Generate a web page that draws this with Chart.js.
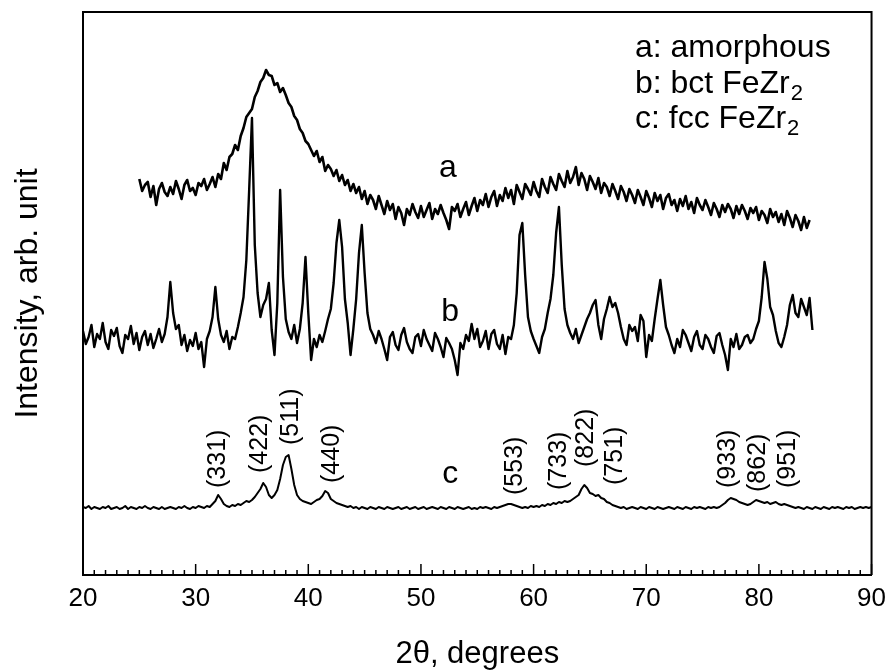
<!DOCTYPE html>
<html>
<head>
<meta charset="utf-8">
<script src="https://cdn.jsdelivr.net/npm/chart.js@4/dist/chart.umd.min.js"></script>
<style>
  html, body { margin: 0; padding: 0; background: #fff; }
  #wrap { width: 894px; height: 672px; }
</style>
</head>
<body>
<div id="wrap"><canvas id="xrd" width="894" height="672"></canvas></div>
<script>
// 2theta sampling of the scans (degrees)
const step = 0.25
const aStart = 25
const bStart = 20
const cStart = 20

// a: amorphous (arb. units)
const aIntensity = [
  396, 384, 390, 393, 378, 389, 370, 386, 392, 383, 379, 388,
  381, 394, 386, 376, 390, 395, 384, 387, 380, 392, 389, 396,
  385, 391, 398, 388, 401, 396, 412, 405, 418, 421, 430, 425,
  439, 447, 458, 462, 466, 478, 484, 493, 497, 505, 500, 499,
  490, 492, 483, 487, 480, 472, 468, 459, 455, 446, 442, 434,
  431, 425, 419, 424, 413, 418, 404, 410, 406, 399, 405, 394,
  400, 390, 395, 384, 391, 382, 388, 376, 384, 371, 380, 375,
  366, 379, 370, 361, 374, 365, 371, 356, 368, 362, 350, 366,
  360, 371, 363, 357, 369, 358, 365, 372, 356, 366, 361, 370,
  362, 355, 346, 368, 364, 371, 358, 366, 373, 360, 369, 377,
  364, 375, 370, 381, 368, 378, 384, 369, 380, 374, 387, 377,
  385, 371, 390, 383, 376, 391, 386, 380, 393, 384, 378, 396,
  388, 382, 398, 391, 385, 401, 394, 388, 404, 392, 398, 408,
  390, 402, 396, 385, 399, 393, 386, 397, 382, 392, 388, 379,
  391, 384, 376, 389, 383, 374, 386, 380, 372, 385, 378, 370,
  384, 377, 368, 382, 374, 380, 366, 377, 381, 370, 375, 364,
  376, 369, 379, 366, 373, 362, 377, 370, 365, 375, 368, 360,
  372, 366, 358, 370, 363, 371, 366, 357, 369, 361, 370, 364,
  356, 367, 362, 368, 355, 364, 360, 352, 366, 358, 363, 353,
  361, 350, 364, 357, 348, 360, 354, 345, 358, 347, 355
]

// b: bct FeZr2
const bIntensity = [
  244, 231, 238, 250, 228, 241, 236, 252, 233, 226, 245, 239,
  247, 229, 222, 240, 236, 249, 231, 242, 225, 238, 244, 230,
  241, 227, 236, 246, 233, 241, 258, 293, 262, 246, 250, 230,
  240, 224, 235, 229, 242, 226, 233, 208, 236, 244, 258, 288,
  256, 240, 233, 244, 226, 238, 236, 248, 262, 278, 315, 385,
  457, 330, 282, 258, 270, 276, 292, 245, 220, 272, 385, 298,
  256, 243, 236, 250, 232, 246, 272, 318, 262, 215, 236, 228,
  240, 233, 244, 256, 266, 292, 332, 355, 328, 276, 252, 220,
  246, 276, 322, 350, 302, 262, 246, 240, 232, 244, 236, 226,
  215, 238, 243, 230, 225, 240, 247, 233, 226, 222, 238, 241,
  229, 245, 236, 230, 224, 242, 236, 228, 218, 237, 232, 226,
  215, 200, 232, 226, 240, 234, 251, 236, 246, 228, 234, 244,
  226, 241, 245, 231, 226, 240, 221, 238, 236, 250, 282, 340,
  352, 300, 258, 244, 236, 229, 222, 238, 246, 262, 276, 300,
  342, 368, 310, 266, 250, 242, 236, 246, 232, 240, 248, 256,
  262, 270, 275, 250, 236, 256, 266, 278, 268, 272, 262, 248,
  236, 230, 250, 244, 248, 234, 260, 254, 218, 240, 234, 256,
  276, 295, 270, 248, 240, 230, 222, 236, 228, 245, 240, 232,
  224, 238, 244, 230, 226, 240, 236, 228, 222, 239, 242, 230,
  220, 205, 236, 228, 241, 226, 230, 238, 240, 232, 236, 246,
  254, 278, 313, 296, 268, 260, 244, 232, 228, 238, 250, 270,
  280, 262, 258, 276, 268, 260, 277, 245
]

// c: fcc FeZr2
const cIntensity = [
  68, 67, 69, 66, 68, 67, 66, 68, 67, 69, 66, 67, 68, 66, 67, 69,
  66, 68, 67, 66, 68, 67, 69, 67, 66, 68, 67, 66, 68, 66, 67, 68,
  67, 66, 68, 67, 69, 67, 66, 68, 67, 69, 68, 67, 69, 68, 71, 74,
  80, 76, 71, 69, 68, 70, 69, 71, 70, 72, 74, 73, 75, 78, 82, 86,
  92, 88, 80, 77, 80, 85, 96, 110, 118, 120, 106, 90, 80, 76, 74, 73,
  72, 71, 73, 75, 76, 79, 84, 82, 76, 74, 72, 71, 70, 69, 68, 69,
  67, 68, 66, 68, 67, 66, 68, 67, 66, 68, 67, 66, 68, 67, 66, 67,
  68, 66, 67, 68, 66, 67, 68, 66, 67, 68, 66, 67, 68, 67, 66, 68,
  67, 66, 68, 67, 66, 68, 67, 66, 67, 68, 66, 67, 66, 68, 67, 68,
  67, 66, 68, 67, 68, 69, 70, 71, 71, 70, 69, 68, 67, 68, 67, 69,
  68, 69, 68, 70, 69, 71, 70, 72, 71, 73, 72, 74, 73, 74, 76, 78,
  80, 86, 90, 87, 82, 81, 79, 80, 77, 76, 73, 72, 70, 69, 68, 67,
  68, 66, 67, 68, 67, 66, 68, 67, 66, 68, 67, 66, 68, 67, 66, 67,
  68, 67, 66, 68, 67, 66, 68, 67, 66, 68, 67, 68, 67, 66, 68, 67,
  68, 67, 68, 70, 72, 75, 77, 76, 75, 73, 72, 71, 70, 71, 73, 75,
  74, 73, 72, 73, 71, 72, 73, 71, 70, 71, 70, 69, 68, 67, 68, 67,
  66, 68, 67, 66, 68, 67, 66, 68, 67, 66, 68, 67, 68, 67, 66, 68,
  67, 68, 66, 67, 68, 67, 68, 67, 68
]

// x axis tick labels
const xTickLabels = [20, 30, 40, 50, 60, 70, 80, 90]

// reflection indices of the fcc phase
const peakLabels = ['(331)', '(422)', '(511)', '(440)', '(553)', '(733)', '(822)', '(751)', '(933)', '(862)', '(951)']
const peakAngles = [32.0, 35.7, 38.5, 42.1, 58.4, 62.3, 64.7, 67.2, 77.3, 79.9, 82.55]
const peakLabelBase = [87, 102, 130, 92, 80, 85, 108, 90, 87, 83, 87]

// curve letters
const curveLetters = ['a', 'b', 'c']
const curveLetterAngle = [52.4, 52.6, 52.6]
const curveLetterBase = [398, 254, 92]

// key in the top right corner
const keyText = ['a: amorphous', 'b: bct FeZr', 'c: fcc FeZr']
const keySub = ['', '2', '2']
const keyAngle = 69.0
const keyBase = [518, 482, 447]

const FONT = "'Liberation Sans', Arial, Helvetica, sans-serif"
Chart.defaults.font.family = FONT
Chart.defaults.color = '#000'

const toPoints = (start, vals) => vals.map((v, i) => ({ x: start + i * step, y: v }))

const trace = (label, start, vals, width) => ({
  label,
  data: toPoints(start, vals),
  borderColor: '#000',
  borderWidth: width,
  borderJoinStyle: 'round',
  pointRadius: 0,
  tension: 0,
  fill: false
})

const decor = {
  id: 'decor',
  afterDraw (chart) {
    const { ctx, chartArea: area, scales: { x, y } } = chart
    ctx.save()
    ctx.strokeStyle = '#000'
    ctx.fillStyle = '#000'
    // top and right frame
    ctx.lineWidth = 2
    ctx.beginPath()
    ctx.moveTo(area.left, area.top)
    ctx.lineTo(area.right, area.top)
    ctx.lineTo(area.right, area.bottom)
    ctx.stroke()
    // inward tick marks on the 2theta axis
    ctx.lineWidth = 1.5
    x.ticks.forEach(t => {
      const px = x.getPixelForValue(t.value)
      const len = t.value % 10 === 0 ? 11 : 5
      ctx.beginPath()
      ctx.moveTo(px, area.bottom)
      ctx.lineTo(px, area.bottom - len)
      ctx.stroke()
    })
    // hkl labels
    ctx.font = '25px ' + FONT
    ctx.textAlign = 'left'
    ctx.textBaseline = 'middle'
    peakLabels.forEach((txt, i) => {
      ctx.save()
      ctx.translate(x.getPixelForValue(peakAngles[i]), y.getPixelForValue(peakLabelBase[i]))
      ctx.rotate(-Math.PI / 2)
      ctx.fillText(txt, 0, 0)
      ctx.restore()
    })
    // curve letters
    ctx.font = '32px ' + FONT
    ctx.textAlign = 'center'
    ctx.textBaseline = 'alphabetic'
    curveLetters.forEach((txt, i) => {
      ctx.fillText(txt, x.getPixelForValue(curveLetterAngle[i]), y.getPixelForValue(curveLetterBase[i]))
    })
    // key
    ctx.textAlign = 'left'
    keyText.forEach((txt, i) => {
      const px = x.getPixelForValue(keyAngle)
      const py = y.getPixelForValue(keyBase[i])
      ctx.font = '32px ' + FONT
      ctx.fillText(txt, px, py)
      if (keySub[i]) {
        const w = ctx.measureText(txt).width
        ctx.font = '22px ' + FONT
        ctx.fillText(keySub[i], px + w + 1, py + 7)
      }
    })
    ctx.restore()
  }
}

new Chart(document.getElementById('xrd'), { // eslint-disable-line
  type: 'line',
  data: {
    datasets: [
      trace('a', aStart, aIntensity, 2.6),
      trace('b', bStart, bIntensity, 2.4),
      trace('c', cStart, cIntensity, 2)
    ]
  },
  options: {
    responsive: false,
    animation: false,
    devicePixelRatio: 1,
    layout: { padding: { top: 12, right: 22, left: 0, bottom: 0 } },
    plugins: {
      legend: { display: false },
      tooltip: { enabled: false }
    },
    scales: {
      x: {
        type: 'linear',
        min: 20,
        max: 90,
        afterFit: s => { s.height = 97 },
        ticks: {
          stepSize: 1,
          autoSkip: false,
          maxRotation: 0,
          padding: 8,
          font: { size: 26 },
          color: '#000',
          callback: v => (xTickLabels.includes(v) ? String(v) : '')
        },
        grid: { display: false, drawTicks: false },
        border: { display: true, color: '#000', width: 2 },
        title: {
          display: true,
          text: '2θ, degrees',
          font: { size: 31, lineHeight: 1 },
          color: '#000',
          padding: { top: 0, bottom: 2 }
        }
      },
      y: {
        type: 'linear',
        min: 0,
        max: 563,
        afterFit: s => { s.width = 83 },
        ticks: { display: false },
        grid: { display: false, drawTicks: false },
        border: { display: true, color: '#000', width: 2 },
        title: {
          display: true,
          text: 'Intensity, arb. unit',
          font: { size: 32, lineHeight: 1.2 },
          color: '#000',
          padding: { top: 9, bottom: 0 }
        }
      }
    }
  },
  plugins: [decor]
})
</script>
</body>
</html>
